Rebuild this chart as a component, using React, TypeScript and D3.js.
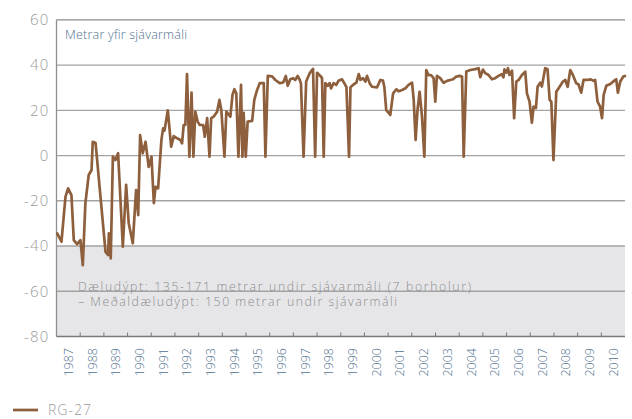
import React from "react";
import * as d3 from "d3";

// Decimal years and water level (m above sea level), well RG-27
const dates: number[] = [
  1987.03, 1987.21, 1987.38, 1987.49, 1987.63, 1987.73, 1987.87, 1988.01, 1988.11, 1988.22,
  1988.36, 1988.48, 1988.53, 1988.65, 1989.07, 1989.18, 1989.21, 1989.29, 1989.38, 1989.49,
  1989.6, 1989.8, 1989.94, 1990.05, 1990.22, 1990.36, 1990.45, 1990.53, 1990.64, 1990.76,
  1990.89, 1991.01, 1991.11, 1991.18, 1991.29, 1991.43, 1991.5, 1991.56, 1991.7, 1991.84,
  1991.95, 1992.09, 1992.23, 1992.3, 1992.37, 1992.44, 1992.51, 1992.61, 1992.7, 1992.78,
  1992.86, 1992.96, 1993.05, 1993.19, 1993.26, 1993.36, 1993.46, 1993.53, 1993.64, 1993.78,
  1993.88, 1993.96, 1994.09, 1994.17, 1994.34, 1994.43, 1994.51, 1994.59, 1994.68, 1994.79,
  1994.85, 1994.9, 1994.99, 1995.07, 1995.26, 1995.35, 1995.47, 1995.58, 1995.75, 1995.82,
  1995.92, 1996.1, 1996.24, 1996.42, 1996.57, 1996.68, 1996.76, 1996.87, 1996.99, 1997.08,
  1997.18, 1997.27, 1997.32, 1997.43, 1997.54, 1997.69, 1997.83, 1997.92, 1998.0, 1998.14,
  1998.21, 1998.28, 1998.35, 1998.45, 1998.53, 1998.59, 1998.7, 1998.81, 1998.91, 1999.05,
  1999.15, 1999.24, 1999.35, 1999.41, 1999.54, 1999.66, 1999.76, 1999.83, 1999.94, 2000.04,
  2000.11, 2000.22, 2000.32, 2000.53, 2000.67, 2000.78, 2000.84, 2000.92, 2001.02, 2001.09,
  2001.21, 2001.35, 2001.44, 2001.59, 2001.73, 2001.86, 2002.01, 2002.08, 2002.16, 2002.24,
  2002.33, 2002.43, 2002.53, 2002.61, 2002.71, 2002.81, 2002.92, 2002.99, 2003.06, 2003.2,
  2003.34, 2003.49, 2003.62, 2003.74, 2003.88, 2004.02, 2004.12, 2004.19, 2004.3, 2004.47,
  2004.68, 2004.82, 2004.89, 2005.0, 2005.1, 2005.24, 2005.38, 2005.52, 2005.66, 2005.8,
  2005.87, 2005.91, 2005.99, 2006.06, 2006.12, 2006.23, 2006.32, 2006.41, 2006.51, 2006.65,
  2006.79, 2006.86, 2006.97, 2007.07, 2007.14, 2007.24, 2007.31, 2007.42, 2007.49, 2007.63,
  2007.73, 2007.82, 2007.89, 2007.98, 2008.1, 2008.24, 2008.38, 2008.48, 2008.58, 2008.69,
  2008.8, 2008.94, 2009.04, 2009.15, 2009.25, 2009.39, 2009.56, 2009.67, 2009.74, 2009.84,
  2009.95, 2010.03, 2010.1, 2010.21, 2010.38, 2010.55, 2010.63, 2010.7, 2010.8, 2010.93,
  2011.0,
];

const levels: number[] = [
  -34.4, -38.1, -18.2, -14.5, -17.5, -37.4, -39.2, -37.4, -48.5, -21,
  -8.6, -6.4, 6.1, 5.5, -42.6, -44, -34.4, -45.5, -0.5, -2,
  1, -40.3, -13, -30, -38.8, -15.3, -26.3, 9, 1, 6.1,
  -5, -0.5, -21, -13.8, -14.5, 6.9, 12, 11, 20, 3.9,
  8.6, 7.6, 6.9, 5.4, 13.5, 13.5, 36, -0.5, 27.8, -0.5,
  19.4, 15, 13.5, 13.5, 8.3, 16.5, -0.5, 16.5, 17.2, 19.4,
  24.6, 20, -0.5, 19.4, 17.2, 26.8, 29.3, 27.5, -0.5, 31.2,
  -0.5, 18.9, -0.5, 15, 15.3, 24.6, 29, 32, 32, -0.5,
  35.2, 35, 33.4, 32, 32.3, 35.2, 30.8, 33.7, 34.2, 33.4,
  35.2, 33.4, 31.9, -0.5, 32.7, 36.4, 38.3, -0.5, 36.6, 35.2,
  34.2, -0.5, 32, 30.8, 32, 29.7, 32, 31.2, 33.1, 33.7,
  32, 30.2, -0.5, 30.2, 31.4, 32.2, 36, 33.4, 34.2, 32.7,
  35.2, 32, 30.4, 30.1, 33.4, 33.1, 30.4, 20.1, 18.9, 17.9,
  27.5, 29.3, 28.4, 29, 29.7, 31.2, 32.2, 24.6, 6.9, 20.1,
  28.2, 17.2, -0.5, 37.8, 35.5, 35.6, 34.2, 23.8, 35.2, 34.2,
  32.2, 33, 33.4, 33.7, 34.9, 35.2, 34.9, -0.5, 37.1, 37.8,
  38.2, 38.6, 34.6, 38, 36.4, 35.6, 33.7, 34.2, 35.2, 36,
  34.6, 38.1, 36.7, 38.6, 35.6, 37.5, 16.5, 32.7, 33.4, 35.6,
  37.1, 27.5, 23.8, 14.5, 21.6, 21, 30.4, 32.2, 30.5, 38.6,
  38.1, 24.6, 23.8, -2, 28.2, 30.4, 32.7, 33.4, 30.4, 37.8,
  35.6, 32, 31.4, 27.8, 33.4, 33.4, 33.7, 33, 33.4, 23.8,
  21.6, 16.5, 26.8, 30.8, 31.6, 33.1, 33.7, 27.8, 32.7, 34.9,
  35.2,
];

const yTicks: number[] = [60, 40, 20, 0, -20, -40, -60, -80];
const yearLabels: number[] = d3.range(1987, 2011);
const unitLabel = "Metrar yfir sjávarmáli";
const noteLines: string[] = [
  "Dæludýpt: 135-171 metrar undir sjávarmáli (7 borholur)",
  "– Meðaldæludýpt: 150 metrar undir sjávarmáli",
];
const noteWidths: number[] = [393, 319];
const seriesName = "RG-27";

const W = 632;
const H = 419;
const LEFT = 56.5;
const RIGHT = 625;
const TOP = 19.8;
const BOTTOM = 336.5;

const BROWN = "#8d5f3c";
const GRID = "#a3a3a3";
const AXIS = "#8f8f8f";
const LABEL_GREY = "#9b9b9b";
const BLUE = "#4f7190";
const FONT = "'Open Sans', Lato, sans-serif";

export default function App() {
  const x = d3.scaleLinear().domain([1987, 2011]).range([LEFT, RIGHT]);
  const y = d3.scaleLinear().domain([-80, 60]).range([BOTTOM, TOP]);
  const pts: [number, number][] = dates.map((d, i) => [d, levels[i]]);
  const line = d3
    .line<[number, number]>()
    .x((d) => x(d[0]))
    .y((d) => y(d[1]));

  return (
    <svg
      width={W}
      height={H}
      style={{ position: "absolute", left: 0, top: 0, background: "#fff" }}
      fontFamily={FONT}
    >
      {/* pumping-depth band */}
      <rect
        x={LEFT}
        y={y(-40)}
        width={RIGHT - LEFT}
        height={y(-80) - y(-40)}
        fill="#e6e6e9"
      />
      {/* grid lines */}
      {yTicks
        .filter((t) => t > -80)
        .map((t) => (
          <line
            key={t}
            x1={LEFT}
            x2={RIGHT}
            y1={y(t)}
            y2={y(t)}
            stroke={t === 60 ? "#8a8a8a" : GRID}
            strokeWidth={1.3}
          />
        ))}
      {/* axes */}
      <line x1={LEFT} x2={LEFT} y1={TOP} y2={BOTTOM} stroke={AXIS} strokeWidth={1.3} />
      <line x1={LEFT} x2={RIGHT} y1={BOTTOM} y2={BOTTOM} stroke="#7a7a7a" strokeWidth={1.3} />
      {yearLabels.slice(1).map((yr) => (
        <line
          key={yr}
          x1={x(yr)}
          x2={x(yr)}
          y1={BOTTOM}
          y2={BOTTOM - 4}
          stroke="#7a7a7a"
          strokeWidth={1}
        />
      ))}
      {/* y tick labels */}
      {yTicks.map((t) => (
        <text
          key={t}
          x={49.5}
          y={y(t)}
          dy="0.36em"
          textAnchor="end"
          fontSize={15}
          fontWeight={300}
          letterSpacing={1.2}
          fill={LABEL_GREY}
        >
          {t}
        </text>
      ))}
      {/* x labels */}
      {yearLabels.map((yr) => (
        <text
          key={yr}
          transform={`translate(${x(yr + 0.5)},348) rotate(-90)`}
          textAnchor="end"
          dy="0.36em"
          fontSize={12.5}
          fontWeight={300}
          fill={BLUE}
        >
          {yr}
        </text>
      ))}
      {/* unit label */}
      <text
        x={65}
        y={39}
        fontSize={12.5}
        fill={BLUE}
        fontWeight={300}
        textLength={122}
        lengthAdjust="spacing"
      >
        {unitLabel}
      </text>
      {/* note text */}
      {noteLines.map((s, i) => (
        <text
          key={i}
          x={78}
          y={290.5 + i * 15.5}
          fontSize={12.3}
          fontWeight={300}
          fill="#8c8c8c"
          textLength={noteWidths[i]}
          lengthAdjust="spacing"
        >
          {s}
        </text>
      ))}
      {/* series */}
      <path
        d={line(pts) ?? ""}
        fill="none"
        stroke={BROWN}
        strokeWidth={2.7}
        strokeLinejoin="round"
        strokeLinecap="round"
      />
      {/* legend */}
      <line x1={13} x2={38} y1={410} y2={410} stroke={BROWN} strokeWidth={2.7} />
      <text
        x={48}
        y={410}
        dy="0.36em"
        fontSize={14}
        fontWeight={300}
        fill={LABEL_GREY}
        textLength={43}
        lengthAdjust="spacing"
      >
        {seriesName}
      </text>
    </svg>
  );
}
